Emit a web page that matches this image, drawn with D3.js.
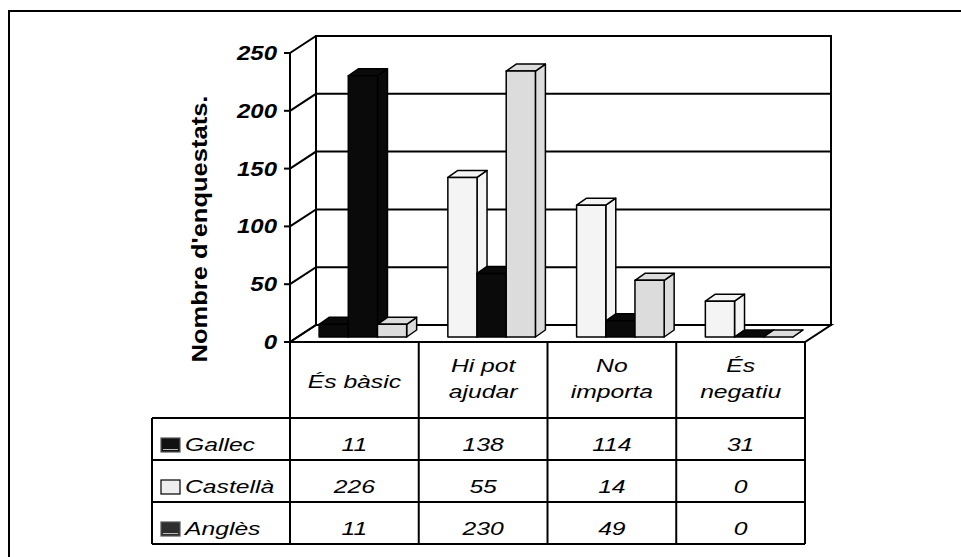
<!DOCTYPE html>
<html>
<head>
<meta charset="utf-8">
<script src="https://cdn.jsdelivr.net/npm/d3@7"></script>
<style>
  html, body { margin: 0; padding: 0; background: #fff; }
  svg { display: block; }
  text { font-family: "Liberation Sans", Arial, sans-serif; fill: #000; }
</style>
</head>
<body>
<script>
// Survey answers by language
const categories = [["És bàsic"], ["Hi pot", "ajudar"], ["No", "importa"], ["És", "negatiu"]];
const seriesNames = ["Gallec", "Castellà", "Anglès"];
const gallec   = [11, 138, 114, 31];
const castella = [226, 55, 14, 0];
const angles   = [11, 230, 49, 0];
const yTicks = [0, 50, 100, 150, 200, 250];
const yTitle = "Nombre d'enquestats.";

const series = [gallec, castella, angles];
const barFill = ["#f4f4f4", "#0a0a0a", "#dcdcdc"];
const keyFill = ["#111111", "#eeeeee", "#2e2e2e"];

const W = 961, H = 557;
const svg = d3.select("body").append("svg").attr("width", W).attr("height", H);

// Plot frame: front plane and depth offset of the 3D box
const x0 = d3.scaleBand().domain(d3.range(categories.length)).range([290, 805]);
const y = d3.scaleLinear().domain([0, 250]).range([342, 53]);
const DX = 26, DY = -17;               // wall depth
const BF = [8.5, -5], BD = [10, -7];   // bar front offset, bar depth
const x1 = d3.scaleBand().domain(d3.range(series.length))
  .range([x0.bandwidth() * 0.16, x0.bandwidth() * 0.84]);

const SX = 1.3; // horizontal text stretch

function label(g, x, yy, txt, opts) {
  const o = Object.assign({size: 19, weight: "normal", style: "italic", anchor: "middle", rot: 0, sx: SX}, opts || {});
  g.append("g")
    .attr("transform", `translate(${x},${yy}) rotate(${o.rot}) scale(${o.sx},1)`)
    .append("text")
    .attr("text-anchor", o.anchor)
    .style("font-size", o.size + "px")
    .style("font-weight", o.weight)
    .style("font-style", o.style)
    .text(txt);
}

// Outer chart border (top and left edges)
svg.append("path").attr("d", `M9,${H} L9,11 L${W},11`)
  .attr("fill", "none").attr("stroke", "#000").attr("stroke-width", 2);

const xL = x0.range()[0], xR = x0.range()[1];
const walls = svg.append("g").attr("fill", "none").attr("stroke", "#000").attr("stroke-width", 2);

// Back wall
walls.append("rect")
  .attr("x", xL + DX).attr("y", y(250) + DY)
  .attr("width", xR - xL).attr("height", y(0) - y(250))
  .attr("fill", "#fff");
// Floor
walls.append("path")
  .attr("d", `M${xL},${y(0)} L${xR},${y(0)} L${xR + DX},${y(0) + DY} L${xL + DX},${y(0) + DY} Z`)
  .attr("fill", "#fff");
// Gridlines on back wall and side wall
yTicks.forEach(t => {
  walls.append("path")
    .attr("d", `M${xL},${y(t)} L${xL + DX},${y(t) + DY} L${xR + DX},${y(t) + DY}`);
});
// Front value axis with ticks
walls.append("path").attr("d", `M${xL},${y(250)} L${xL},${y(0)}`);
yTicks.forEach(t => {
  walls.append("line").attr("x1", xL - 6).attr("x2", xL).attr("y1", y(t)).attr("y2", y(t));
  label(svg, xL - 13, y(t) + 7, String(t), {size: 20, weight: "bold", anchor: "end", sx: 1.2});
});

// Axis title
label(svg, 207, 229, yTitle, {size: 22, weight: "bold", style: "normal", rot: -90, sx: 1.16});

// 3D bars
const bars = svg.append("g").attr("stroke", "#000").attr("stroke-width", 1.5).attr("stroke-linejoin", "round");
categories.forEach((c, ci) => {
  series.forEach((vals, si) => {
    const v = vals[ci];
    const fill = (si === 0 && ci === 0) ? barFill[1] : barFill[si];
    const xa = x0(ci) + x1(si) + BF[0];
    const xb = xa + x1.bandwidth();
    const yb = y(0) + BF[1];
    const yt = y(v) + BF[1];
    const g = bars.append("g");
    // right side
    g.append("path").attr("fill", fill)
      .attr("d", `M${xb},${yb} L${xb + BD[0]},${yb + BD[1]} L${xb + BD[0]},${yt + BD[1]} L${xb},${yt} Z`);
    // top
    g.append("path").attr("fill", fill)
      .attr("d", `M${xa},${yt} L${xb},${yt} L${xb + BD[0]},${yt + BD[1]} L${xa + BD[0]},${yt + BD[1]} Z`);
    // front
    g.append("rect").attr("fill", fill)
      .attr("x", xa).attr("y", yt).attr("width", xb - xa).attr("height", yb - yt);
  });
});

// Data table under the plot
const rowY = [418, 460, 502, 544];
const tableLeft = 152;
const tbl = svg.append("g").attr("stroke", "#000").attr("stroke-width", 2).attr("fill", "none");
rowY.forEach(r => tbl.append("line").attr("x1", tableLeft).attr("x2", xR).attr("y1", r).attr("y2", r));
tbl.append("line").attr("x1", tableLeft).attr("x2", tableLeft).attr("y1", rowY[0]).attr("y2", rowY[3]);
d3.range(categories.length + 1).forEach(i => {
  const xx = i < categories.length ? x0(i) : xR;
  tbl.append("line").attr("x1", xx).attr("x2", xx).attr("y1", y(0)).attr("y2", rowY[3]);
});

// Category headers
categories.forEach((lines, ci) => {
  const cx = x0(ci) + x0.bandwidth() / 2;
  if (lines.length === 1) {
    label(svg, cx, 388, lines[0]);
  } else {
    label(svg, cx, 372, lines[0]);
    label(svg, cx, 398, lines[1]);
  }
});

// Series rows: key, name, values
seriesNames.forEach((name, si) => {
  const top = rowY[si];
  const base = top + 33;
  svg.append("rect")
    .attr("x", 161).attr("y", top + 20).attr("width", 19).attr("height", 14)
    .attr("fill", keyFill[si]).attr("stroke", si === 1 ? "#000" : "#555").attr("stroke-width", 1.2);
  if (si !== 1) {
    svg.append("line").attr("x1", 163).attr("x2", 178).attr("y1", top + 31.5).attr("y2", top + 31.5)
      .attr("stroke", "#bbb").attr("stroke-width", 1);
  }
  label(svg, 185, base, name, {anchor: "start"});
  series[si].forEach((v, ci) => {
    label(svg, x0(ci) + x0.bandwidth() / 2, base, String(v));
  });
});
</script>
</body>
</html>
